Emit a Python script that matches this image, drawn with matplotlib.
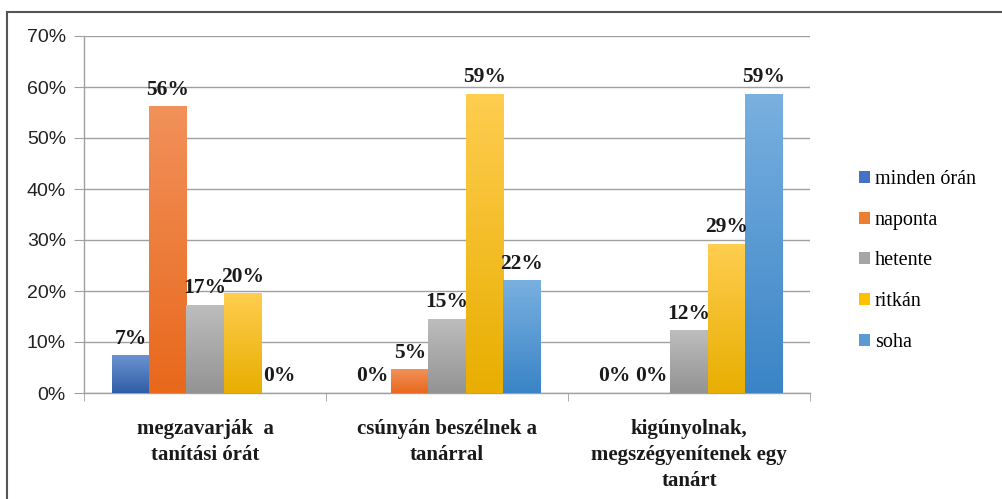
import numpy as np
import matplotlib
matplotlib.use("Agg")
import matplotlib.pyplot as plt
from matplotlib.colors import LinearSegmentedColormap
from matplotlib.patches import Patch
from matplotlib.lines import Line2D

# adatok
categories = ["megzavarják  a\ntanítási órát",
              "csúnyán beszélnek a\ntanárral",
              "kigúnyolnak,\nmegszégyenítenek egy\ntanárt"]
series = ["minden órán", "naponta", "hetente", "ritkán", "soha"]
minden_oran = [7.3, 0, 0]
naponta = [56.1, 4.6, 0]
hetente = [17.2, 14.5, 12.2]
ritkan = [19.5, 58.6, 29.2]
soha = [0, 22.0, 58.6]
values = [minden_oran, naponta, hetente, ritkan, soha]
labels = [["7%", "0%", "0%"], ["56%", "5%", "0%"], ["17%", "15%", "12%"],
          ["20%", "59%", "29%"], ["0%", "22%", "59%"]]
yticks = [0, 10, 20, 30, 40, 50, 60, 70]

# szinek (gore svetlije, dole tamnije)
grads = [("#6b93d0", "#2f5ea8"),
         ("#f2915a", "#e8681c"),
         ("#bdbdbd", "#939393"),
         ("#ffcd50", "#e8ae00"),
         ("#79b0e0", "#3a84c6")]
mids = ["#4472c4", "#ed7d31", "#a5a5a5", "#ffc000", "#5b9bd5"]

fig = plt.figure(figsize=(10.03, 4.99), dpi=100)
ax = fig.add_axes([84 / 1003, 1 - 393 / 499, (810 - 84) / 1003, (393 - 36) / 499])

n = len(series)
w = 1 / (n + 1.5)
x = np.arange(len(categories))
grad = np.linspace(1, 0, 256).reshape(-1, 1)

for i in range(n):
    cmap = LinearSegmentedColormap.from_list("g%d" % i, [grads[i][1], grads[i][0]])
    xs = x - 2.5 * w + i * w
    for j in range(len(categories)):
        h = values[i][j]
        if h > 0:
            ax.imshow(grad, extent=[xs[j], xs[j] + w, 0, h], aspect="auto",
                      cmap=cmap, vmin=0, vmax=1, zorder=3)
        ax.annotate(labels[i][j], (xs[j] + w / 2, h), xytext=(0, 5),
                    textcoords="offset points", ha="center", va="bottom",
                    fontsize=15.5, fontweight="bold", family="Liberation Serif",
                    color="#1a1a1a", zorder=5)

ax.set_xlim(-0.5, 2.5)
ax.set_ylim(0, 70)
ax.set_yticks(yticks)
ax.set_yticklabels(["%d%%" % t for t in yticks], family="Liberation Sans",
                   fontsize=14, color="#222222")
ax.set_xticks(x)
ax.set_xticklabels(categories, family="Liberation Serif", fontweight="bold",
                   fontsize=15, color="#1a1a1a", linespacing=1.4)
ax.set_xticks([-0.5, 0.5, 1.5, 2.5], minor=True)
ax.tick_params(axis="x", which="major", length=0, pad=19)
ax.tick_params(axis="x", which="minor", length=6, color="#a0a0a0", direction="out")
ax.tick_params(axis="y", length=7, color="#a0a0a0", pad=6)
ax.grid(axis="y", color="#a0a0a0", linewidth=1, zorder=0)
ax.set_axisbelow(True)
for s in ["top", "right"]:
    ax.spines[s].set_visible(False)
for s in ["left", "bottom"]:
    ax.spines[s].set_color("#a0a0a0")
    ax.spines[s].set_linewidth(1)

handles = [Patch(facecolor=c, edgecolor="none") for c in mids]
fig.legend(handles, series, loc="center left", bbox_to_anchor=(0.846, 0.477),
           frameon=False, prop={"family": "Liberation Serif", "size": 14.5},
           handlelength=0.55, handleheight=0.55, handletextpad=0.25,
           labelspacing=1.08, borderpad=0)

# okvir
fig.add_artist(Line2D([7 / 1003, 1.0], [1 - 12 / 499, 1 - 12 / 499],
                      transform=fig.transFigure, color="#555555", linewidth=1.5))
fig.add_artist(Line2D([7 / 1003, 7 / 1003], [0, 1 - 12 / 499],
                      transform=fig.transFigure, color="#555555", linewidth=1.5))

fig.savefig("out.png", dpi=100)
